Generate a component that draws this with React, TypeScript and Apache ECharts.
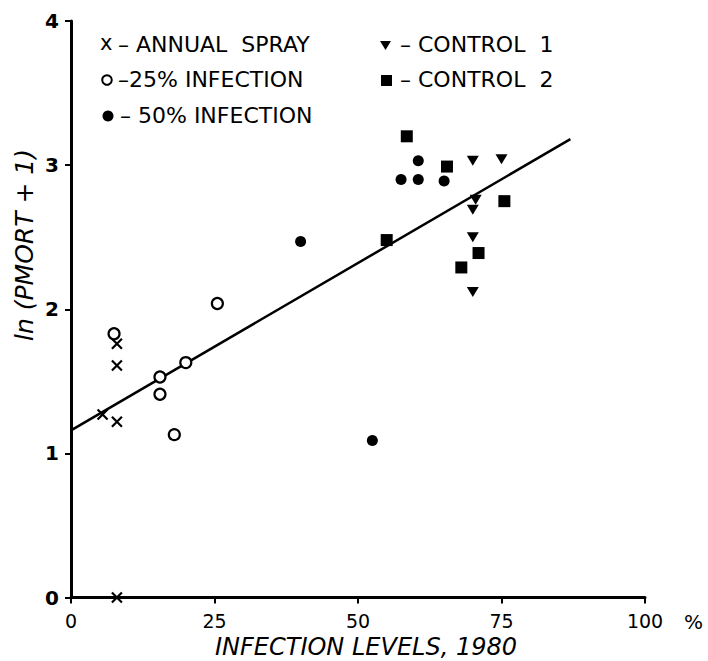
import React, { useEffect, useRef } from "react";
import * as echarts from "echarts";

// Data: [infection level %, ln(PMORT+1)]
const annualSpray: number[][] = [[8, 1.76], [8, 1.61], [5.5, 1.27], [8, 1.22], [8, 0]];
const infection25: number[][] = [[7.5, 1.83], [15.5, 1.53], [15.5, 1.41], [20, 1.63], [18, 1.13], [25.5, 2.04]];
const infection50: number[][] = [[40, 2.47], [52.5, 1.09], [57.5, 2.9], [60.5, 2.9], [60.5, 3.03], [65, 2.89]];
const control1: number[][] = [[70, 3.03], [75, 3.04], [70.5, 2.76], [70, 2.69], [70, 2.5], [70, 2.12]];
const control2: number[][] = [[58.5, 3.2], [65.5, 2.99], [75.5, 2.75], [55, 2.48], [71, 2.39], [68, 2.29]];
const regressionLine: number[][] = [[0, 1.16], [87, 3.18]];

const xMin = 0, xMax = 100, xStep = 25;
const yMin = 0, yMax = 4, yStep = 1;

const legendCol1 = ["– ANNUAL  SPRAY", "–25% INFECTION", "– 50% INFECTION"];
const legendCol2 = ["– CONTROL  1", "– CONTROL  2"];

const xTitle = "INFECTION LEVELS, 1980";
const yTitle = "ln (PMORT + 1)";

const FONT = "DejaVu Sans";
const BLACK = "#000";

export default function App() {
  const ref = useRef<HTMLDivElement>(null);
  useEffect(() => {
    if (!ref.current) return;
    const chart = echarts.init(ref.current, null, { renderer: "svg" });
    const txt = (x: number, y: number, text: string, extra: any = {}) => ({
      type: "text",
      x,
      y,
      style: {
        text,
        fill: BLACK,
        fontFamily: FONT,
        fontSize: 22,
        verticalAlign: "middle",
        ...extra,
      },
    });
    chart.setOption({
      animation: false,
      backgroundColor: "#fff",
      grid: { left: 71, right: 63, top: 21, bottom: 63.5, containLabel: false, outerBoundsMode: "none" },
      xAxis: {
        type: "value",
        min: xMin,
        max: xMax,
        interval: xStep,
        name: xTitle,
        nameLocation: "middle",
        nameGap: 36,
        nameTextStyle: {
          color: BLACK,
          fontFamily: FONT,
          fontSize: 24,
          fontStyle: "italic",
          padding: [0, 0, 0, 16],
        },
        axisLine: { show: true, onZero: false, lineStyle: { color: BLACK, width: 3 } },
        axisTick: { show: true, length: 6, lineStyle: { color: BLACK, width: 2 } },
        axisLabel: { color: BLACK, fontFamily: FONT, fontSize: 19, margin: 14 },
        splitLine: { show: false },
      },
      yAxis: {
        type: "value",
        min: yMin,
        max: yMax,
        interval: yStep,
        axisLine: { show: true, onZero: false, lineStyle: { color: BLACK, width: 3 } },
        axisTick: { show: true, length: 6, lineStyle: { color: BLACK, width: 2 } },
        axisLabel: { color: BLACK, fontFamily: FONT, fontSize: 20, fontWeight: "bold", margin: 12 },
        splitLine: { show: false },
      },
      graphic: [
        {
          type: "text",
          x: 24,
          y: 245,
          rotation: Math.PI / 2,
          style: {
            text: yTitle,
            fill: BLACK,
            fontFamily: FONT,
            fontSize: 25,
            fontStyle: "italic",
            align: "center",
            verticalAlign: "middle",
          },
        },
        txt(684, 622, "%", { fontSize: 20 }),
        // legend column 1
        txt(100, 43, "x", { fontSize: 21 }),
        txt(118, 44, legendCol1[0]),
        {
          type: "circle",
          shape: { cx: 107, cy: 80, r: 4.8 },
          style: { fill: "none", stroke: BLACK, lineWidth: 2 },
        },
        txt(118, 79, legendCol1[1]),
        { type: "circle", shape: { cx: 108, cy: 116, r: 5.5 }, style: { fill: BLACK } },
        txt(120, 115, legendCol1[2]),
        // legend column 2
        {
          type: "polygon",
          shape: { points: [[380, 41], [391, 41], [385.5, 50]] },
          style: { fill: BLACK },
        },
        txt(400, 44, legendCol2[0]),
        { type: "rect", shape: { x: 381, y: 75, width: 11, height: 11 }, style: { fill: BLACK } },
        txt(400, 79, legendCol2[1]),
      ],
      series: [
        {
          name: "regression",
          type: "line",
          data: regressionLine,
          showSymbol: false,
          symbol: "none",
          lineStyle: { color: BLACK, width: 2.5 },
          z: 1,
        },
        {
          name: "ANNUAL SPRAY",
          type: "scatter",
          data: annualSpray,
          symbol: "path://M0,0L10,10M10,0L0,10",
          symbolSize: 10,
          itemStyle: { color: "none", borderColor: BLACK, borderWidth: 2.2, opacity: 1 },
          z: 3,
        },
        {
          name: "25% INFECTION",
          type: "scatter",
          data: infection25,
          symbol: "circle",
          symbolSize: 11,
          itemStyle: { color: "#fff", borderColor: BLACK, borderWidth: 2.2, opacity: 1 },
          z: 3,
        },
        {
          name: "50% INFECTION",
          type: "scatter",
          data: infection50,
          symbol: "circle",
          symbolSize: 11,
          itemStyle: { color: BLACK, opacity: 1 },
          z: 3,
        },
        {
          name: "CONTROL 1",
          type: "scatter",
          data: control1,
          symbol: "path://M0,0L12,0L6,10Z",
          symbolSize: [12, 10],
          itemStyle: { color: BLACK, opacity: 1 },
          z: 3,
        },
        {
          name: "CONTROL 2",
          type: "scatter",
          data: control2,
          symbol: "rect",
          symbolSize: 12,
          itemStyle: { color: BLACK, opacity: 1 },
          z: 3,
        },
      ],
    });
    return () => chart.dispose();
  }, []);
  return (
    <div
      ref={ref}
      style={{ position: "absolute", left: 0, top: 0, width: 708, height: 661, background: "#fff" }}
    />
  );
}
